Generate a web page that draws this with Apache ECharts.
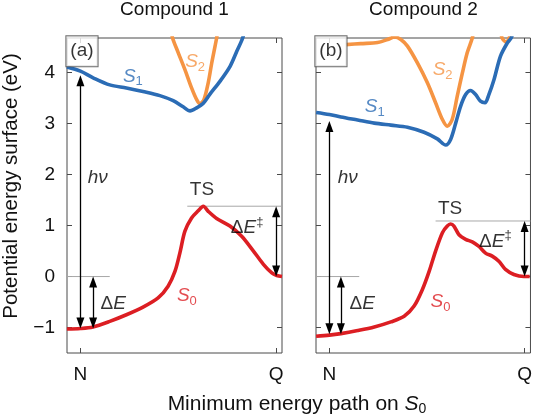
<!DOCTYPE html>
<html><head><meta charset="utf-8">
<script src="https://cdn.jsdelivr.net/npm/echarts@6/dist/echarts.min.js"></script>
<style>html,body{margin:0;padding:0;background:#fff}#c{width:535px;height:416px}</style>
</head><body><div id="c"></div>
<script>
// ---------------- data ----------------
const categoriesX = ['N', 'Q'];          // tick labels along the path
const xTickValues = [0, 100];            // N and Q positions on the path coordinate
const yTickValues = [-1, 0, 1, 2, 3, 4];
const panelTitles = ['Compound 1', 'Compound 2'];

// Compound 1
const c1_S1_x = [-6.9, 0, 6.5, 15, 23.5, 32, 40.6, 47.4, 52.5, 56, 59.4, 62.8, 66.2, 71.3, 76.4, 79.9, 82.9, 84.5];
const c1_S1_y = [4.11, 4.03, 3.90, 3.76, 3.70, 3.63, 3.55, 3.45, 3.33, 3.25, 3.31, 3.40, 3.58, 3.83, 4.12, 4.42, 4.68, 4.95];
const c1_S2_x = [45.8, 47.1, 50, 53.4, 56.8, 59.4, 61.1, 63.1, 65.3, 67.1, 68.8, 69.6, 70.3];
const c1_S2_y = [4.95, 4.68, 4.39, 4.06, 3.70, 3.47, 3.39, 3.47, 3.80, 4.19, 4.52, 4.68, 4.85];
const c1_S0_x = [-6.9, 0, 6.4, 15, 23.5, 32, 39.7, 44.8, 48.3, 50.8, 53.4, 56.8, 60.2, 62.8, 65.3, 69.6, 76.4, 82.4, 88.4, 93.5, 97.8, 100.3, 103];
const c1_S0_y = [-1.03, -1.02, -0.99, -0.88, -0.75, -0.60, -0.42, -0.19, 0.10, 0.46, 0.89, 1.15, 1.29, 1.38, 1.28, 1.14, 0.99, 0.79, 0.50, 0.24, 0.07, 0.02, 0.0];
const c1_TS = 1.38;      // transition-state level
const c1_Q = 0.0;        // product level
const c1_N = -1.02;      // reactant level
const c1_hvTop = 3.95;   // top of the excitation arrow

// Compound 2
const c2_S1_x = [-6.8, 0, 5.9, 14.5, 23, 31.5, 40, 48.5, 55.3, 59.6, 62.1, 64.7, 67.2, 69.8, 72.3, 74.9, 77.4, 79.7, 81.7, 84.3, 87.6, 91.1, 93.1, 94.5];
const c2_S1_y = [3.22, 3.18, 3.13, 3.07, 3.01, 2.97, 2.93, 2.83, 2.70, 2.58, 2.69, 3.01, 3.34, 3.57, 3.65, 3.57, 3.44, 3.41, 3.57, 3.86, 4.32, 4.58, 4.68, 4.85];
const c2_S2_x = [8.5, 16.1, 24.7, 29.8, 33.5, 36.6, 40, 45.1, 50.2, 54.4, 57.9, 60.4, 62.9, 65.5, 68.1, 70.6, 73.2, 75, 80, 86, 88.5, 90.5, 92.5];
const c2_S2_y = [4.55, 4.57, 4.59, 4.65, 4.70, 4.65, 4.52, 4.19, 3.80, 3.41, 3.08, 2.95, 3.08, 3.54, 3.99, 4.39, 4.68, 5.0, 5.3, 5.0, 4.68, 4.60, 4.72];
const c2_S0_x = [-6.8, 0, 5.9, 14.5, 23, 31.5, 38.3, 43.4, 47.7, 51.1, 54.4, 57.9, 60.4, 62.1, 63.8, 66.4, 69.8, 73.2, 76.6, 80, 83.4, 86.8, 90.2, 94.5, 99.6, 102.6];
const c2_S0_y = [-1.17, -1.15, -1.12, -1.06, -0.99, -0.89, -0.78, -0.58, -0.25, 0.10, 0.50, 0.86, 0.99, 1.03, 0.99, 0.82, 0.73, 0.68, 0.59, 0.46, 0.40, 0.30, 0.14, 0.04, 0.0, 0.0];
const c2_TS = 1.09;
const c2_Q = 0.0;
const c2_N = -1.13;
const c2_hvTop = 3.05;

// ---------------- layout / style ----------------
const FONT = '"Liberation Sans", Arial, Helvetica, sans-serif';
const X_MIN = -6.85, X_MAX = 103, Y_MIN = -1.5, Y_MAX = 4.68;
const GRID_TOP = 38, GRID_H = 315, GRID_W = 215;
const gridLefts = [67, 316];
const BLUE = '#2b6cb5', ORANGE = '#f59443', RED = '#dc1e23';
const FRAME = '#4a4a4a';
const HEAD = [8, 11];
const pxPerY = GRID_H / (Y_MAX - Y_MIN);

const zip = (xs, ys) => xs.map((x, i) => [x, ys[i]]);

function richFor(color) {
  return {
    i:   { fontStyle: 'italic', fontSize: 19, lineHeight: 24, fontFamily: FONT, color },
    n:   { fontSize: 19, lineHeight: 24, fontFamily: FONT, color },
    sub: { fontSize: 13, lineHeight: 12, verticalAlign: 'bottom', fontFamily: FONT, color },
    sup: { fontSize: 13, lineHeight: 8, verticalAlign: 'top', fontFamily: FONT, color }
  };
}

// arrow between two tip values (double headed)
function dArrow(x, tipA, tipB) {
  const d = (HEAD[1] / 2) / pxPerY;
  const s = Math.sign(tipB - tipA);
  return [{ coord: [x, tipA + s * d] }, { coord: [x, tipB - s * d] }];
}

const panels = [
  { S1: zip(c1_S1_x, c1_S1_y), S2: zip(c1_S2_x, c1_S2_y), S0: zip(c1_S0_x, c1_S0_y),
    TS: c1_TS, Q: c1_Q, N: c1_N, hvTop: c1_hvTop, tag: '(a)',
    tsLineFrom: 54.6, zeroLineTo: 15, dEx: 6.5,
    lab: { S1: [26.8, 3.93], S2: [58.6, 4.21], hv: [8.9, 1.94], TS: [62.1, 1.70], dEt: [85.2, 0.96], dE: [16.8, -0.54], S0: [54.4, -0.38] } },
  { S1: zip(c2_S1_x, c2_S1_y), S2: zip(c2_S2_x, c2_S2_y), S0: zip(c2_S0_x, c2_S0_y),
    TS: c2_TS, Q: c2_Q, N: c2_N, hvTop: c2_hvTop, tag: '(b)',
    tsLineFrom: 54.4, zeroLineTo: 15.3, dEx: 5.9,
    lab: { S1: [23.2, 3.33], S2: [58.0, 4.05], hv: [9.4, 1.94], TS: [61.8, 1.33], dEt: [85.0, 0.69], dE: [16.8, -0.54], S0: [56.9, -0.50] } }
];

const grid = gridLefts.map(l => ({ left: l, top: GRID_TOP, width: GRID_W, height: GRID_H, show: true, borderColor: FRAME, borderWidth: 1, backgroundColor: 'transparent' }));

const xAxis = [], yAxis = [];
const tickStyle = { inside: true, length: 5, lineStyle: { color: FRAME, width: 1 } };
const noLine = { show: false, onZero: false };
[0, 1].forEach(g => {
  xAxis.push({ type: 'value', gridIndex: g, min: X_MIN, max: X_MAX, position: 'bottom',
    axisLine: noLine, splitLine: { show: false },
    axisTick: Object.assign({ customValues: xTickValues }, tickStyle),
    axisLabel: { customValues: xTickValues, formatter: v => categoriesX[xTickValues.indexOf(v)] || '',
      fontSize: 19, color: '#111', margin: 12, fontFamily: FONT } });
  xAxis.push({ type: 'value', gridIndex: g, min: X_MIN, max: X_MAX, position: 'top',
    axisLine: noLine, splitLine: { show: false },
    axisTick: Object.assign({ customValues: xTickValues }, tickStyle), axisLabel: { show: false } });
  yAxis.push({ type: 'value', gridIndex: g, min: Y_MIN, max: Y_MAX, position: 'left',
    axisLine: noLine, splitLine: { show: false },
    axisTick: Object.assign({ customValues: yTickValues }, tickStyle),
    axisLabel: { show: g === 0, customValues: yTickValues, formatter: v => (v < 0 ? '\u2212' + Math.abs(v) : String(v)),
      fontSize: 19, color: '#111', margin: 12, fontFamily: FONT } });
  yAxis.push({ type: 'value', gridIndex: g, min: Y_MIN, max: Y_MAX, position: 'right',
    axisLine: noLine, splitLine: { show: false },
    axisTick: Object.assign({ customValues: yTickValues }, tickStyle), axisLabel: { show: false } });
});

const series = [];
panels.forEach((p, g) => {
  const ax = { xAxisIndex: g * 2, yAxisIndex: g * 2 };
  const curve = (data, color, z) => Object.assign({ type: 'line', data, showSymbol: false, symbol: 'none', smooth: 0.3,
    clip: true, z, lineStyle: { color, width: 3.6 }, itemStyle: { color } }, ax);
  // reference levels (thin grey)
  series.push(Object.assign({ type: 'line', data: [[p.tsLineFrom, p.TS], [X_MAX, p.TS]], symbol: 'none', z: 1,
    lineStyle: { color: '#a8a8a8', width: 1 } }, ax));
  series.push(Object.assign({ type: 'line', data: [[X_MIN, p.Q], [p.zeroLineTo, p.Q]], symbol: 'none', z: 1,
    lineStyle: { color: '#a8a8a8', width: 1 } }, ax));
  series.push(curve(p.S2, ORANGE, 2));
  series.push(curve(p.S1, BLUE, 3));
  series.push(curve(p.S0, RED, 4));
  // arrows
  series.push(Object.assign({ type: 'line', data: [], z: 5,
    markLine: { silent: true, animation: false, symbol: ['triangle', 'triangle'], symbolSize: HEAD,
      lineStyle: { color: '#000', width: 1.3, type: 'solid' }, label: { show: false },
      emphasis: { disabled: true },
      data: [ dArrow(0, p.N, p.hvTop), dArrow(p.dEx, p.Q, p.N), dArrow(100, p.TS, p.Q) ] } }, ax));
  // text annotations
  const L = p.lab;
  const item = (pos, text, color, extra) => ({ value: pos, label: Object.assign({ show: true, position: 'inside', formatter: text,
    color, rich: richFor(color), fontFamily: FONT, fontSize: 19 }, extra || {}) });
  series.push(Object.assign({ type: 'scatter', symbolSize: 1, z: 6, silent: true,
    itemStyle: { color: 'rgba(0,0,0,0)' },
    data: [
      item(L.S1, '{i|S}{sub|1}', BLUE),
      item(L.S2, '{i|S}{sub|2}', ORANGE),
      item(L.S0, '{i|S}{sub|0}', RED),
      item(L.hv, '{i|h\u03bd}', '#000'),
      item(L.TS, '{n|TS}', '#000'),
      item(L.dEt, '{n|\u0394}{i|E}{sup|\u2021}', '#000'),
      item(L.dE, '{n|\u0394}{i|E}', '#000'),
      item([0.8, 4.42], '{n|' + p.tag + '}', '#000', { backgroundColor: '#fff', borderColor: FRAME, borderWidth: 1, padding: [3, 4, 3, 4] })
    ] }, ax));
});

const graphic = [
  { type: 'text', x: gridLefts[0] + GRID_W / 2, y: 10, style: { text: panelTitles[0], font: '19px ' + FONT, fill: '#111', align: 'center', verticalAlign: 'middle' } },
  { type: 'text', x: gridLefts[1] + GRID_W / 2, y: 10, style: { text: panelTitles[1], font: '19px ' + FONT, fill: '#111', align: 'center', verticalAlign: 'middle' } },
  { type: 'text', x: 11, y: 186, rotation: Math.PI / 2, style: { text: 'Potential energy surface (eV)', font: '20.5px ' + FONT, fill: '#111', align: 'center', verticalAlign: 'middle' } },
  { type: 'text', x: 297, y: 404, style: { text: 'Minimum energy path on {i|S}{sub|0}', font: '21px ' + FONT, fill: '#111', align: 'center', verticalAlign: 'middle',
      rich: { i: { fontStyle: 'italic', fontSize: 21, lineHeight: 24, fontFamily: FONT }, sub: { fontSize: 14, lineHeight: 12, verticalAlign: 'bottom', fontFamily: FONT } } } }
];

const chart = echarts.init(document.getElementById('c'), null, { renderer: 'canvas' });
chart.setOption({
  animation: false,
  backgroundColor: '#fff',
  textStyle: { fontFamily: FONT },
  grid, xAxis, yAxis, series, graphic
});
</script></body></html>
